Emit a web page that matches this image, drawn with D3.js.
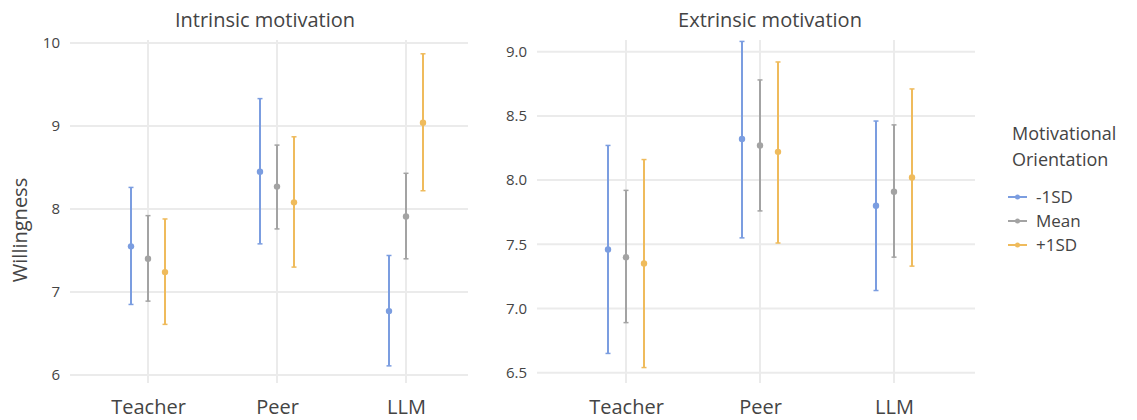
<!DOCTYPE html>
<html lang="en">
<head>
    <meta charset="UTF-8">
    <title>Willingness by motivation</title>
    <style>
        body {
            margin: 0;
            background: #fff;
            font-family: "Open Sans", Arial, sans-serif;
        }
        svg text { fill: #444; }
    </style>
</head>
<body>
    <div id="chart"></div>

    <script src="https://d3js.org/d3.v7.min.js"></script>
    <script>
        // categories and groups
        const categories = ["Teacher", "Peer", "LLM"];
        const groups = ["-1SD", "Mean", "+1SD"];
        const colors = ["#7b9de0", "#a3a3a3", "#efbb5c"];

        // Intrinsic motivation: values per group, in category order
        const intrinsicMean = [[7.55, 8.45, 6.77], [7.40, 8.27, 7.91], [7.24, 8.08, 9.04]];
        const intrinsicLow  = [[6.85, 7.58, 6.11], [6.89, 7.76, 7.40], [6.61, 7.30, 8.22]];
        const intrinsicHigh = [[8.26, 9.33, 7.44], [7.92, 8.77, 8.43], [7.88, 8.87, 9.87]];
        const intrinsicTicks = [6, 7, 8, 9, 10];

        // Extrinsic motivation
        const extrinsicMean = [[7.46, 8.32, 7.80], [7.40, 8.27, 7.91], [7.35, 8.22, 8.02]];
        const extrinsicLow  = [[6.65, 7.55, 7.14], [6.89, 7.76, 7.40], [6.54, 7.51, 7.33]];
        const extrinsicHigh = [[8.27, 9.08, 8.46], [7.92, 8.78, 8.43], [8.16, 8.92, 8.71]];
        const extrinsicTicks = [6.5, 7.0, 7.5, 8.0, 8.5, 9.0];

        const svg = d3.select("#chart").append("svg")
            .attr("width", 1137)
            .attr("height", 420);

        const panels = [
            {
                title: "Intrinsic motivation", mean: intrinsicMean, low: intrinsicLow, high: intrinsicHigh,
                ticks: intrinsicTicks, fmt: d3.format("d"), domain: [6, 10], yRange: [375, 43],
                left: 70, right: 468, xRange: [148, 406], dodge: 17, titleX: 265
            },
            {
                title: "Extrinsic motivation", mean: extrinsicMean, low: extrinsicLow, high: extrinsicHigh,
                ticks: extrinsicTicks, fmt: d3.format(".1f"), domain: [6.5, 9], yRange: [372.7, 51.7],
                left: 537, right: 975, xRange: [626, 894], dodge: 18, titleX: 770
            }
        ];

        panels.forEach(p => {
            const x = d3.scalePoint().domain(categories).range(p.xRange);
            const dx = d3.scalePoint().domain(groups).range([-p.dodge, p.dodge]);
            const y = d3.scaleLinear().domain(p.domain).range(p.yRange);
            const g = svg.append("g");

            // grid
            g.selectAll(".hgrid").data(p.ticks).enter().append("line")
                .attr("x1", p.left).attr("x2", p.right)
                .attr("y1", d => y(d)).attr("y2", d => y(d))
                .attr("stroke", "#ebebeb").attr("stroke-width", 2);
            g.selectAll(".vgrid").data(categories).enter().append("line")
                .attr("x1", d => x(d)).attr("x2", d => x(d))
                .attr("y1", 40).attr("y2", 383)
                .attr("stroke", "#ebebeb").attr("stroke-width", 2);

            // y axis labels
            const yAxis = g.append("g")
                .attr("transform", `translate(${p.left - 6},0)`)
                .call(d3.axisLeft(y).tickValues(p.ticks).tickFormat(p.fmt).tickSize(0).tickPadding(4));
            yAxis.select(".domain").remove();
            yAxis.selectAll("text")
                .style("font-family", "'Open Sans', Arial, sans-serif")
                .style("font-size", "15px")
                .attr("fill", "#444");

            // x axis labels
            const xAxis = g.append("g")
                .attr("transform", "translate(0,390)")
                .call(d3.axisBottom(x).tickSize(0).tickPadding(0));
            xAxis.select(".domain").remove();
            xAxis.selectAll("text")
                .attr("dy", null)
                .attr("y", 24)
                .style("font-family", "'Open Sans', Arial, sans-serif")
                .style("font-size", "20px")
                .attr("fill", "#444");

            // title
            g.append("text")
                .attr("x", p.titleX).attr("y", 27)
                .attr("text-anchor", "middle")
                .style("font-size", "20px")
                .attr("fill", "#555")
                .text(p.title);

            // error bars and points
            groups.forEach((grp, gi) => {
                categories.forEach((cat, ci) => {
                    const cx = x(cat) + dx(grp);
                    const lo = p.low[gi][ci], hi = p.high[gi][ci], m = p.mean[gi][ci];
                    g.append("line")
                        .attr("x1", cx).attr("x2", cx)
                        .attr("y1", y(lo)).attr("y2", y(hi))
                        .attr("stroke", colors[gi]).attr("stroke-width", 2);
                    [lo, hi].forEach(v => {
                        g.append("line")
                            .attr("x1", cx - 2.5).attr("x2", cx + 2.5)
                            .attr("y1", y(v)).attr("y2", y(v))
                            .attr("stroke", colors[gi]).attr("stroke-width", 1.5);
                    });
                    g.append("circle")
                        .attr("cx", cx).attr("cy", y(m)).attr("r", 3.2)
                        .attr("fill", colors[gi]);
                });
            });
        });

        // y axis title
        svg.append("text")
            .attr("transform", "translate(27,230) rotate(-90)")
            .attr("text-anchor", "middle")
            .style("font-size", "20px")
            .attr("fill", "#444")
            .text("Willingness");

        // legend
        const legend = svg.append("g");
        legend.append("text").attr("x", 1012).attr("y", 140)
            .style("font-size", "18px").attr("fill", "#555").text("Motivational");
        legend.append("text").attr("x", 1012).attr("y", 166)
            .style("font-size", "18px").attr("fill", "#555").text("Orientation");

        const ly = d3.scalePoint().domain(groups).range([197, 245]);
        groups.forEach((grp, gi) => {
            legend.append("line")
                .attr("x1", 1008).attr("x2", 1027)
                .attr("y1", ly(grp)).attr("y2", ly(grp))
                .attr("stroke", colors[gi]).attr("stroke-width", 2);
            legend.append("circle")
                .attr("cx", 1017.5).attr("cy", ly(grp)).attr("r", 2.5)
                .attr("fill", colors[gi]);
            legend.append("text")
                .attr("x", 1036).attr("y", ly(grp)).attr("dy", "0.35em")
                .style("font-size", "17px").attr("fill", "#333")
                .text(grp);
        });
    </script>
</body>
</html>
